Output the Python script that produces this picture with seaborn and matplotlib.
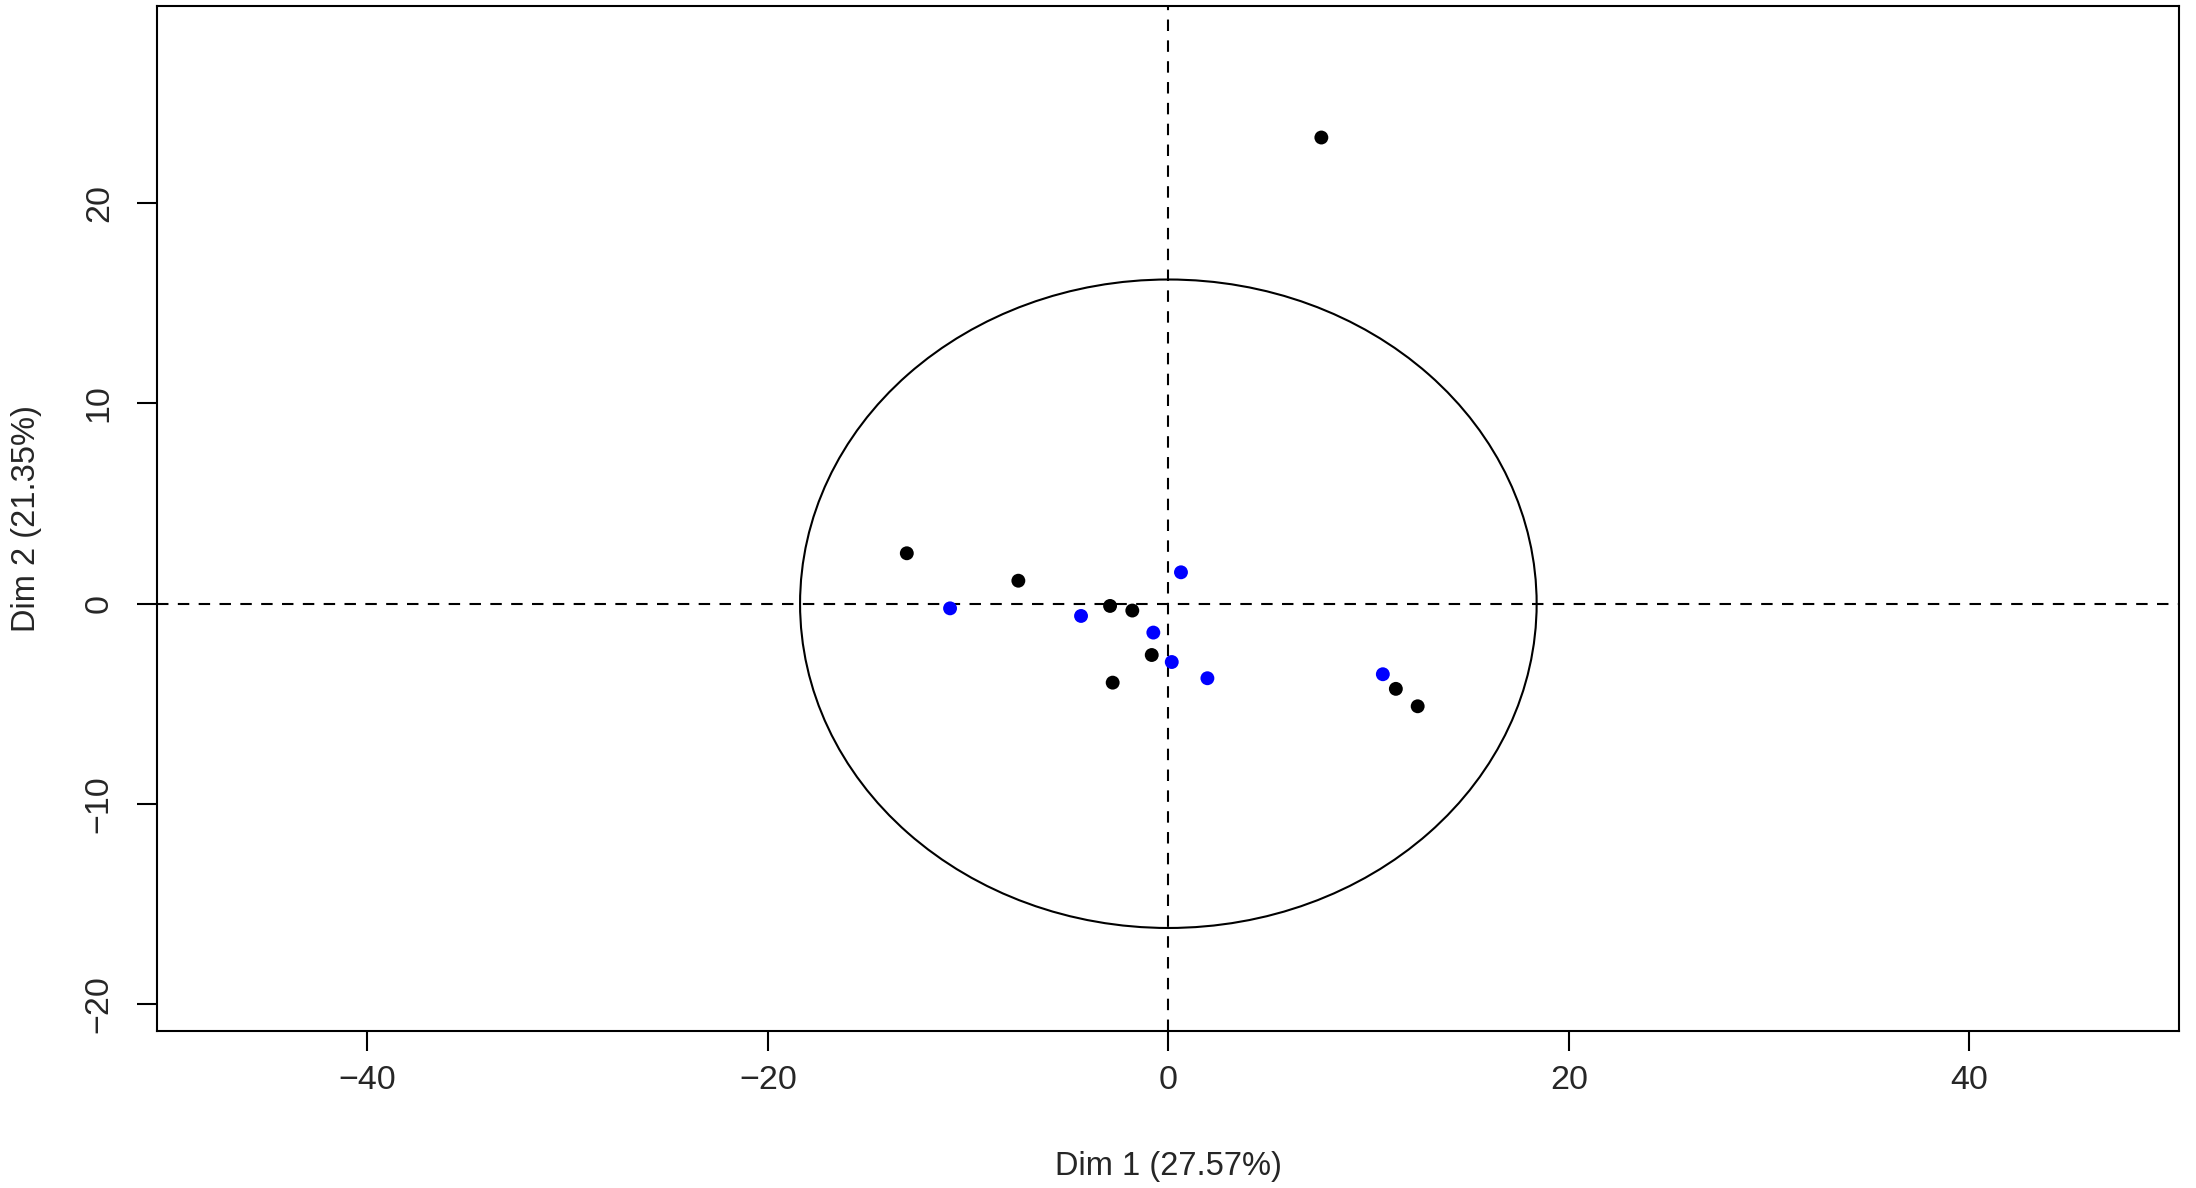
import numpy as np
import pandas as pd
import seaborn as sns
import matplotlib.pyplot as plt
from matplotlib.patches import Ellipse

# =========================
# DATA
# =========================
dim1 = [-13.06, -7.49, -2.91, -1.80, -0.83, -2.78, 7.64, 11.36, 12.45,
        -10.90, -4.36, -0.75, 0.17, 0.63, 1.95, 10.71]
dim2 = [2.52, 1.15, -0.11, -0.34, -2.56, -3.94, 23.28, -4.25, -5.12,
        -0.23, -0.61, -1.44, -2.91, 1.57, -3.72, -3.52]
group = ["a"] * 9 + ["b"] * 7
group_colors = {"a": "black", "b": "blue"}

ellipse_rx = 18.39
ellipse_ry = 16.19

x_ticks = [-40, -20, 0, 20, 40]
y_ticks = [-20, -10, 0, 10, 20]
x_label = "Dim 1 (27.57%)"
y_label = "Dim 2 (21.35%)"

df = pd.DataFrame({"Dim1": dim1, "Dim2": dim2, "group": group})

# =========================
# PLOT
# =========================
sns.set_style("white")
plt.rcParams["font.family"] = ["Liberation Sans", "DejaVu Sans"]

fig = plt.figure(figsize=(21.96, 11.88), dpi=100)
ax = fig.add_axes([0.0715, 0.1324, 0.9208, 0.8626])

ax.axhline(0, color="black", lw=1.5, linestyle=(0, (5.5, 4.5)), zorder=1)
ax.axvline(0, color="black", lw=1.5, linestyle=(0, (5.5, 4.5)), zorder=1)
ax.add_patch(Ellipse((0, 0), 2 * ellipse_rx, 2 * ellipse_ry, fill=False,
                     edgecolor="black", lw=1.5, zorder=1))

sns.scatterplot(data=df, x="Dim1", y="Dim2", hue="group", palette=group_colors,
                s=100, linewidth=0, legend=False, ax=ax, zorder=3)

ax.set_xlim(-50.5, 50.47)
ax.set_ylim(-21.32, 29.85)
ax.set_xticks(x_ticks)
ax.set_yticks(y_ticks)
ax.set_xticklabels([str(t).replace("-", "\u2212") for t in x_ticks])
ax.set_yticklabels([str(t).replace("-", "\u2212") for t in y_ticks],
                   rotation=90, va="center")
ax.tick_params(axis="both", which="major", direction="out", length=14.4,
               width=1.5, labelsize=24.5, color="black", pad=10,
               bottom=True, left=True)
ax.tick_params(axis="y", pad=16)
ax.set_xlabel(x_label, fontsize=23.5, labelpad=40)
ax.set_ylabel(y_label, fontsize=23.5, labelpad=30)
for sp in ax.spines.values():
    sp.set_visible(True)
    sp.set_color("black")
    sp.set_linewidth(1.5)

fig.savefig("out.png", dpi=100)
